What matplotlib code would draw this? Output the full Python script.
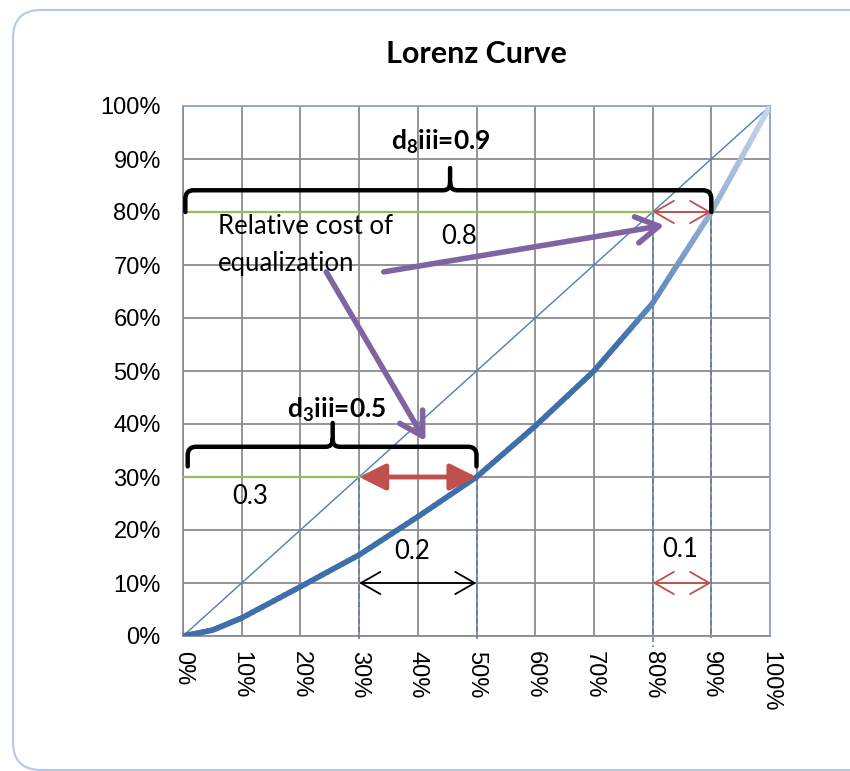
import numpy as np
import matplotlib
matplotlib.use("Agg")
import matplotlib.pyplot as plt
from matplotlib.path import Path
from matplotlib.patches import PathPatch, FancyBboxPatch
from matplotlib.collections import LineCollection
from matplotlib.colors import to_rgb

plt.rcParams['mathtext.fontset'] = 'custom'
plt.rcParams['mathtext.rm'] = 'Lato'
plt.rcParams['mathtext.bf'] = 'Lato:bold'

# data
pop_share = [0.0, 0.05, 0.1, 0.2, 0.3, 0.4, 0.5, 0.6, 0.7, 0.8, 0.9, 0.95, 1.0]
income_share = [0.0, 0.011, 0.034, 0.093, 0.153, 0.225, 0.30, 0.396, 0.50, 0.628, 0.80, 0.90, 1.0]
tick_vals = [0.0, 0.1, 0.2, 0.3, 0.4, 0.5, 0.6, 0.7, 0.8, 0.9, 1.0]
tick_labels = ['0%', '10%', '20%', '30%', '40%', '50%', '60%', '70%', '80%', '90%', '100%']

d8_level, d8_x, d8_width = 0.8, 0.8, 0.1      # d8iii
d3_level, d3_x, d3_width = 0.3, 0.3, 0.2      # d3iii

BLUE = '#3f6fab'
RED = '#c0504d'
GREEN = '#9bbb59'
PURPLE = '#8064a2'
GRID = '#8c8c8c'
TXT = ['Lato', 'DejaVu Sans']
FS = 18.5

fig = plt.figure(figsize=(8.5, 7.71), dpi=100)
ax = fig.add_axes([183 / 850, 1 - 636 / 771, 587 / 850, 530 / 771])

# outer frame of the chart object
frame = FancyBboxPatch((0.13, 0.01), 9.0, 7.60, boxstyle='round,pad=0,rounding_size=0.28',
                       transform=fig.dpi_scale_trans, fc='none', ec='#b4c8ea', lw=1.5,
                       zorder=-5)
fig.patches.append(frame)

ax.set_xlim(0, 1)
ax.set_ylim(0, 1)
ax.set_xticks(tick_vals)
ax.set_yticks(tick_vals)
ax.set_xticklabels(tick_labels, rotation=-90, fontsize=17, family='Liberation Sans')
ax.set_yticklabels(tick_labels, fontsize=17, family='Liberation Sans')
ax.tick_params(length=0)
ax.tick_params(axis='y', pad=16)
ax.tick_params(axis='x', pad=11)
ax.grid(True, color=GRID, lw=1.3)
ax.set_axisbelow(True)
for s in ['left', 'bottom']:
    ax.spines[s].set_color(GRID)
    ax.spines[s].set_linewidth(1.3)
for s in ['right', 'top']:
    ax.spines[s].set_color('#8ea6cf')
    ax.spines[s].set_linewidth(1.3)

ax.set_title('Lorenz Curve', fontsize=22, fontweight='bold', family=TXT, pad=31)

# equality line
ax.plot([0, 1], [0, 1], color='#4a7ebb', lw=1.0, zorder=3)

# Lorenz curve, fading out at the top
segs, cols = [], []
dark, light = np.array(to_rgb(BLUE)), np.array(to_rgb('#c8d6ec'))
for i in range(len(pop_share) - 1):
    x0, x1 = pop_share[i], pop_share[i + 1]
    y0, y1 = income_share[i], income_share[i + 1]
    for t0, t1 in zip(np.linspace(0, 1, 12)[:-1], np.linspace(0, 1, 12)[1:]):
        xa, xb = x0 + (x1 - x0) * t0, x0 + (x1 - x0) * t1
        ya, yb = y0 + (y1 - y0) * t0, y0 + (y1 - y0) * t1
        segs.append([(xa, ya), (xb, yb)])
        f = np.clip(((xa + xb) / 2 - 0.74) / 0.26, 0, 1)
        cols.append(dark * (1 - f) + light * f)
lc = LineCollection(segs, colors=cols, linewidths=4.0, capstyle='round', zorder=4)
ax.add_collection(lc)

# dashed drop lines
dash = dict(color='#4f81bd', lw=1.2, ls=(0, (3, 2)), clip_on=False, zorder=3)
ax.plot([d3_x, d3_x], [d3_level, -0.005], **dash)
ax.plot([d3_x + d3_width, d3_x + d3_width], [d3_level, -0.005], **dash)
ax.plot([d8_x, d8_x], [d8_level, -0.02], **dash)
ax.plot([d8_x + d8_width, d8_x + d8_width], [d8_level, -0.004], **dash)

# green level lines
ax.plot([0, d8_x], [d8_level, d8_level], color=GREEN, lw=1.6, zorder=3)
ax.plot([0, d3_x], [d3_level, d3_level], color=GREEN, lw=1.6, zorder=3)


def double_arrow(x0, x1, y, color, lw, style):
    ax.annotate('', xy=(x1, y), xytext=(x0, y),
                arrowprops=dict(arrowstyle=style, color=color, lw=lw,
                                shrinkA=0, shrinkB=0, mutation_scale=20), zorder=6)


thin = '<->,head_length=0.7,head_width=0.4'
double_arrow(d3_x, d3_x + d3_width, d3_level, RED, 3.5, '<|-|>,head_length=0.8,head_width=0.4')
double_arrow(d8_x, d8_x + d8_width, d8_level, RED, 1.3, thin)
double_arrow(d8_x, d8_x + d8_width, 0.1, RED, 1.3, thin)
double_arrow(d3_x, d3_x + d3_width, 0.1, 'black', 1.3, thin)


def brace(x0, x1, y0, y1, tx, ty):
    rx, ry = 0.014, 0.016
    verts = [(x0, y0), (x0, y1 - ry), (x0, y1), (x0 + rx, y1),
             (tx - 0.012, y1), (tx, y1), (tx, y1 + 0.014), (tx, ty),
             (tx, y1 + 0.014), (tx, y1), (tx + 0.012, y1),
             (x1 - rx, y1), (x1, y1), (x1, y1 - ry), (x1, y0)]
    codes = [Path.MOVETO, Path.LINETO, Path.CURVE3, Path.CURVE3,
             Path.LINETO, Path.CURVE3, Path.CURVE3, Path.LINETO,
             Path.MOVETO, Path.CURVE3, Path.CURVE3,
             Path.LINETO, Path.CURVE3, Path.CURVE3, Path.LINETO]
    ax.add_patch(PathPatch(Path(verts, codes), fc='none', ec='black', lw=3.2,
                           capstyle='round', joinstyle='round', zorder=7, clip_on=False))


brace(0.004, 0.9, 0.80, 0.841, 0.455, 0.883)
brace(0.008, 0.5, 0.32, 0.357, 0.255, 0.402)

# purple pointers
for (xs, ys), (xe, ye) in [((0.342, 0.687), (0.82, 0.775)), ((0.244, 0.687), (0.413, 0.368))]:
    ax.annotate('', xy=(xe, ye), xytext=(xs, ys),
                arrowprops=dict(arrowstyle='->,head_length=0.65,head_width=0.38', color=PURPLE,
                                lw=4, shrinkA=0, shrinkB=0, mutation_scale=25), zorder=8)

# labels
ax.text(0.44, 0.932, r'd$_{\mathbf{8}}$iii=0.9', fontsize=19, fontweight='bold', family=TXT,
        ha='center', va='center', zorder=9)
ax.text(0.262, 0.426, r'd$_{\mathbf{3}}$iii=0.5', fontsize=19, fontweight='bold', family=TXT,
        ha='center', va='center', zorder=9)
ax.text(0.06, 0.773, 'Relative cost of', fontsize=FS, family=TXT, ha='left', va='center', zorder=9)
ax.text(0.06, 0.703, 'equalization', fontsize=FS, family=TXT, ha='left', va='center', zorder=9)
ax.text(0.47, 0.753, '0.8', fontsize=FS, family=TXT, ha='center', va='center', zorder=9)
ax.text(0.114, 0.264, '0.3', fontsize=FS, family=TXT, ha='center', va='center', zorder=9)
ax.text(0.39, 0.16, '0.2', fontsize=FS, family=TXT, ha='center', va='center', zorder=9)
ax.text(0.847, 0.164, '0.1', fontsize=FS, family=TXT, ha='center', va='center', zorder=9)

fig.savefig('out.png', dpi=100)
